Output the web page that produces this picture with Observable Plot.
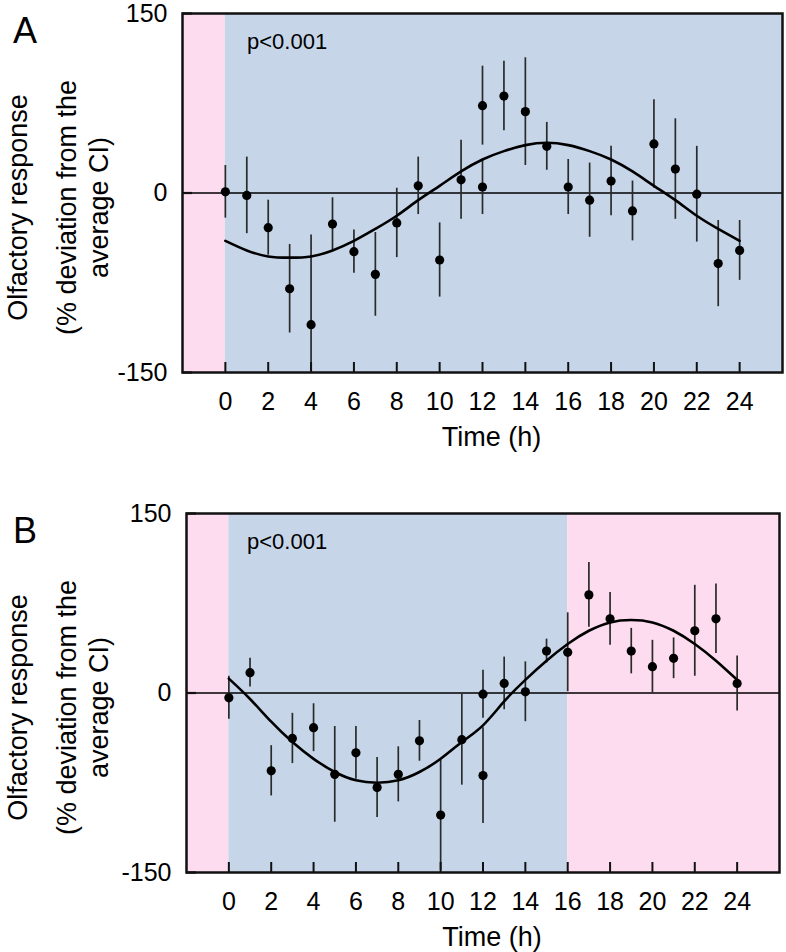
<!DOCTYPE html>
<html>
<head>
<meta charset="utf-8">
<script src="https://cdn.jsdelivr.net/npm/d3@7"></script>
<script src="https://cdn.jsdelivr.net/npm/@observablehq/plot@0.6"></script>
<style>
  body { margin: 0; background: #fff; }
  #chart svg { display: block; }
</style>
</head>
<body>
<div id="chart"></div>
<script>
// Sampling times (h); two measurements at 12 h
const hours = [0,1,2,3,4,5,6,7,8,9,10,11,12,12,13,14,15,16,17,18,19,20,21,22,23,24];

// Panel A: mean and error (% deviation)
const meanA = [1,-2,-29,-80,-110,-26,-49,-68,-25,6,-56,11,73,5,81,68,39,5,-6,10,-15,41,20,-1,-59,-48];
const errA  = [22,32,23,37,75,22,18,35,29,24,31,33,33,23,29,45,20,23,31,29,25,37,42,40,36,25];

// Panel B: mean and error
const meanB = [-4,17,-65,-38,-29,-68,-50,-79,-68,-40,-102,-39,-1,-69,8,1,35,34,82,62,35,22,29,52,62,8];
const errB  = [18,12,21,21,20,40,22,25,23,17,46,38,20,40,22,25,10,33,27,22,19,22,17,38,29,23];

// Fitted curves
const fitHours = [0,1,2,3,4,5,6,7,8,9,10,11,12,13,14,15,16,17,18,19,20,21,22,23,24];
const fitA = [-40,-48,-53,-54,-53,-48,-40,-30,-19,-6,6,18,28,35,40,42,40,35,28,18,6,-6,-19,-30,-40];
const fitB = [12,-5,-24,-41,-55,-66,-73,-75,-73,-66,-55,-41,-27,-7,11,27,41,52,59,61,59,52,41,27,11];

// Background phases
const phaseStartA = [-2, 0];
const phaseEndA   = [0, 26];
const phaseNameA  = ["dark", "light"];
const phaseStartB = [-2, 0, 16];
const phaseEndB   = [0, 16, 26];
const phaseNameB  = ["dark", "light", "dark"];

const xTicks = [0,2,4,6,8,10,12,14,16,18,20,22,24];
const yTicks = [-150, 0, 150];

const FONT = "'Liberation Sans', Arial, Helvetica, sans-serif";
const WIDTH = 786;
const MARGIN_TOP = 13;

function panel({letter, means, errs, fit, starts, ends, names, height, marginLeft, marginRight, marginBottom}) {
  const pts = hours.map((t, i) => ({t, v: means[i], e: errs[i]}));
  const fitPts = fitHours.map((t, i) => ({t, v: fit[i]}));
  const phases = starts.map((s, i) => ({from: s, to: ends[i], phase: names[i]}));
  const frameH = height - MARGIN_TOP - marginBottom;
  const frameW = WIDTH - marginLeft - marginRight;
  return Plot.plot({
    width: WIDTH,
    height,
    marginTop: MARGIN_TOP,
    marginBottom,
    marginLeft,
    marginRight,
    style: {fontFamily: FONT, background: "white", color: "black"},
    x: {domain: [-2, 26]},
    y: {domain: [-150, 150]},
    color: {domain: ["dark", "light"], range: ["#fcdcee", "#c6d6e8"]},
    marks: [
      Plot.rect(phases, {x1: "from", x2: "to", fill: "phase"}),
      Plot.ruleY([0], {stroke: "#000", strokeWidth: 1.3}),
      Plot.ruleX(pts, {x: "t", y1: d => d.v - d.e, y2: d => d.v + d.e, stroke: "#2a2a2a", strokeWidth: 1.7, clip: true}),
      Plot.line(fitPts, {x: "t", y: "v", curve: "natural", stroke: "#000", strokeWidth: 2.6}),
      Plot.dot(pts, {x: "t", y: "v", r: 4.6, fill: "#000"}),
      // inward ticks
      Plot.ruleX(xTicks, {x: d => d, insetTop: frameH - 10, stroke: "#111", strokeWidth: 2}),
      Plot.ruleY(yTicks, {y: d => d, insetRight: frameW - 10, stroke: "#111", strokeWidth: 2.2}),
      Plot.frame({stroke: "#111", strokeWidth: 2.5}),
      Plot.axisX({ticks: xTicks, tickSize: 0, tickPadding: 20, fontSize: 25, label: null, tickFormat: d => String(d)}),
      Plot.axisY({ticks: yTicks, tickSize: 0, tickPadding: 15, fontSize: 25, label: null, tickFormat: d => String(d)}),
      Plot.text([letter], {text: d => d, frameAnchor: "top-left", textAnchor: "start", lineAnchor: "bottom", dx: 12.5 - marginLeft, dy: 29, fontSize: 36}),
      Plot.text(["p<0.001"], {text: d => d, frameAnchor: "top-left", textAnchor: "start", lineAnchor: "bottom", dx: 246.5 - marginLeft, dy: 35, fontSize: 22}),
      Plot.text(["Time (h)"], {text: d => d, frameAnchor: "bottom", textAnchor: "middle", lineAnchor: "bottom", dx: 9, dy: 73, fontSize: 27}),
      Plot.text(["Olfactory response"], {text: d => d, frameAnchor: "left", rotate: -90, textAnchor: "middle", lineAnchor: "bottom", dx: 26.5 - marginLeft, dy: 14.5, fontSize: 27}),
      Plot.text(["(% deviation from the"], {text: d => d, frameAnchor: "left", rotate: -90, textAnchor: "middle", lineAnchor: "bottom", dx: 75 - marginLeft, dy: 14.5, fontSize: 27}),
      Plot.text(["average CI)"], {text: d => d, frameAnchor: "left", rotate: -90, textAnchor: "middle", lineAnchor: "bottom", dx: 107 - marginLeft, dy: 14.5, fontSize: 27})
    ]
  });
}

const chart = document.getElementById("chart");
chart.append(panel({
  letter: "A", means: meanA, errs: errA, fit: fitA,
  starts: phaseStartA, ends: phaseEndA, names: phaseNameA,
  height: 500, marginLeft: 182, marginRight: 4, marginBottom: 128
}));
chart.append(panel({
  letter: "B", means: meanB, errs: errB, fit: fitB,
  starts: phaseStartB, ends: phaseEndB, names: phaseNameB,
  height: 452, marginLeft: 186, marginRight: 7, marginBottom: 80
}));
</script>
</body>
</html>
